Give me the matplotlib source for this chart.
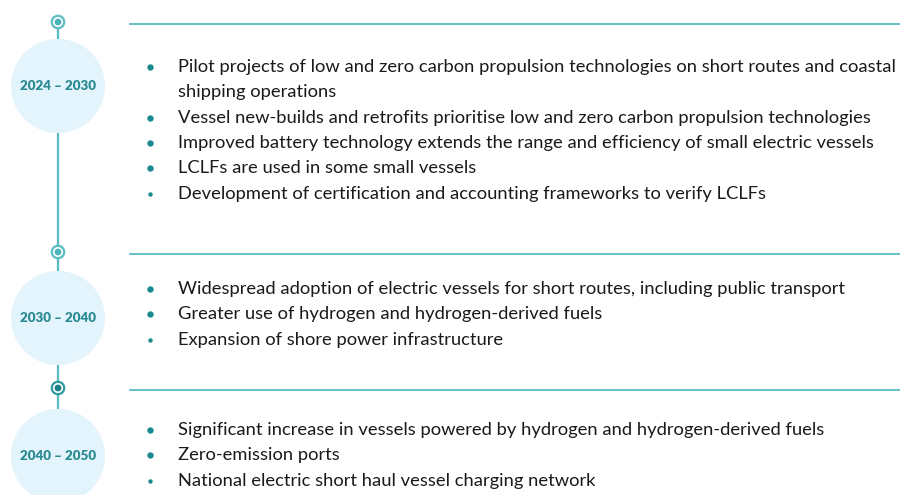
import matplotlib
matplotlib.use("Agg")
import matplotlib.pyplot as plt
from matplotlib.patches import Circle

periods = ["2024 – 2030", "2030 – 2040", "2040 – 2050"]
items_1 = [
    "Pilot projects of low and zero carbon propulsion technologies on short routes and coastal\nshipping operations",
    "Vessel new-builds and retrofits prioritise low and zero carbon propulsion technologies",
    "Improved battery technology extends the range and efficiency of small electric vessels",
    "LCLFs are used in some small vessels",
    "Development of certification and accounting frameworks to verify LCLFs",
]
items_2 = [
    "Widespread adoption of electric vessels for short routes, including public transport",
    "Greater use of hydrogen and hydrogen-derived fuels",
    "Expansion of shore power infrastructure",
]
items_3 = [
    "Significant increase in vessels powered by hydrogen and hydrogen-derived fuels",
    "Zero-emission ports",
    "National electric short haul vessel charging network",
]
groups = [items_1, items_2, items_3]

# layout (pixels)
marker_y = [22, 252, 388]
circle_y = [86, 318, 456]
first_line_y = [67, 289, 430]
line_h = 25.3
circle_r = 47
spine_x = 58

LINE = "#5bbcc4"
TEAL = "#1b8a90"
YEAR = "#2a8a92"
FILL = "#e4f4fc"

fig = plt.figure(figsize=(9, 4.95), dpi=100)
ax = fig.add_axes([0, 0, 1, 1])
ax.set_xlim(0, 900)
ax.set_ylim(495, 0)
ax.axis("off")

# vertical spine
ax.plot([spine_x, spine_x], [marker_y[0], 495], color=LINE, lw=1.6, zorder=1)

for i, (period, items) in enumerate(zip(periods, groups)):
    cy = circle_y[i]
    ax.add_patch(Circle((spine_x, cy), circle_r, facecolor=FILL, edgecolor="none", zorder=2))
    ax.text(spine_x, cy, period, ha="center", va="center", fontsize=9.6,
            fontweight="heavy", color=YEAR, family="Lato", zorder=3)
    # marker
    my = marker_y[i]
    ring_c = LINE if i < 2 else "#2f9aa0"
    dot_c = "#4fb3bb" if i < 2 else "#1b7f86"
    ax.add_patch(Circle((spine_x, my), 6.2, facecolor="white", edgecolor=ring_c, lw=1.6, zorder=3))
    ax.add_patch(Circle((spine_x, my), 3.4, facecolor=dot_c, edgecolor="none", zorder=4))
    # horizontal rule
    ax.plot([130, 900], [my + 2, my + 2], color=LINE, lw=1.3, zorder=1)
    # bullets
    y = first_line_y[i]
    for j, txt in enumerate(items):
        last = j == len(items) - 1
        ax.plot(150, y, "o", color=TEAL, ms=4.6 if not last else 3.2, mec="none", zorder=3)
        for line in txt.split("\n"):
            ax.text(178, y, line, ha="left", va="center", fontsize=13.2, color="#1a1a1a",
                    family="Lato", zorder=3)
            y += line_h

fig.savefig("out.png", dpi=100)
